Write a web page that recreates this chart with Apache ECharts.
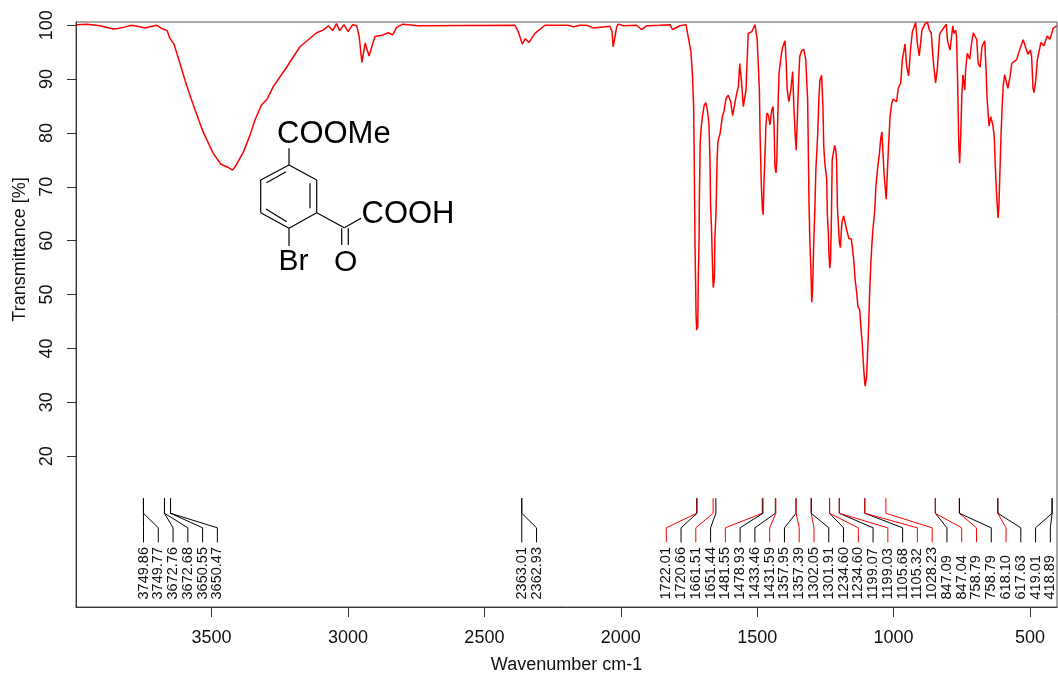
<!DOCTYPE html>
<html><head><meta charset="utf-8">
<style>html,body{margin:0;padding:0;background:#fff}#c{width:1058px;height:675px}</style>
<script src="https://cdn.jsdelivr.net/npm/echarts@6/dist/echarts.min.js"></script>
</head><body><div id="c"></div>
<script>
// [wavenumber cm-1, transmittance %]
const bandOH = [[3995,100.1],[3958,100.2],[3909,99.9],[3861,99.3],[3842,99.4],[3824,99.6],[3793,100],[3763,99.7],[3744,99.5],[3726,99.7],[3702,100],[3683,99.4],[3663,99],[3653,97.6],[3638,96.5],[3622,93.9],[3592,88.9],[3567,85.2],[3531,80.2],[3494,76.2],[3466,74.2],[3439,73.6],[3423,73.1],[3408,74.2],[3384,76.4],[3359,79.6],[3341,82.4],[3317,85.2],[3296,86.3],[3274,88.6],[3225,92.2],[3176,96],[3115,98.6],[3091,99.1],[3072,99.9],[3056,99],[3042,100.3],[3030,99],[3015,100.1],[2999,98.8],[2983,100.1],[2968,99.9],[2959,97.9],[2949,93.1],[2937,96.7],[2923,94.3],[2901,97.9],[2871,98.2],[2852,98.6],[2836,98.2],[2822,99.6],[2799,100.2],[2744,99.9]];
const bandMid = [[2388,100],[2376,98.8],[2361,96.5],[2350,97.5],[2336,96.8],[2315,98.5],[2278,100],[2193,100],[2172,99.7],[2150,100],[2125,100],[2101,99.5],[2040,99.8],[2032,98.8],[2028,96],[2023,96.1],[2015,99.7],[2009,100.2],[1991,99.9],[1942,100],[1924,99.2],[1905,99.9],[1856,100],[1820,100.1],[1810,99.2],[1783,99.9],[1761,100.1]];
const bandCarbonyl = [[1753,97.9],[1743,95.1],[1737,90.5],[1733,84.9],[1731,76.3],[1728,59.6],[1724,46.2],[1722,43.4],[1718,44],[1716,52.7],[1713,60.1],[1712,67.6],[1709,78.1],[1706,80.6],[1701,83],[1694,85.2],[1688,85.6],[1682,84],[1677,81.8],[1673,75],[1671,66.9],[1667,61.7],[1663,53.6],[1661,51.3],[1657,53],[1655,60.7],[1651,65.1],[1647,75],[1644,78.4],[1636,79.9],[1628,83],[1622,84],[1614,86.4],[1606,87],[1597,85.8],[1590,83.2],[1584,84.9],[1575,87.4],[1569,88.6],[1564,92.9],[1559,92.9],[1557,89.2],[1551,84.9],[1547,84.6],[1541,88],[1533,98.5],[1520,98.8],[1508,100.1]];
const bandAromatic = [[1500,97.3],[1492,88],[1489,78.7],[1485,70.6],[1481,66],[1478,64.8],[1475,71],[1470,78.1],[1468,81.5],[1464,83.7],[1459,83.3],[1453,81.5],[1447,84.2],[1442,84.9],[1438,81.2],[1435,73.8],[1431,72.6],[1428,75],[1424,84.3],[1420,91.1],[1414,93.6],[1408,95.7],[1398,97.1],[1394,93.6],[1390,88],[1384,85.8],[1380,86],[1376,88.3],[1370,91.4],[1366,85.5],[1361,79.9],[1357,76.8],[1353,82.4],[1348,89.8],[1344,94.2],[1337,95.3],[1329,95.5],[1322,93.6],[1315,86.1],[1310,66.9],[1307,60.1],[1303,54.6],[1300,48.6],[1297,50.8],[1293,58.9],[1288,66.9],[1285,73.1],[1278,79.9],[1274,86.1],[1270,89.8],[1264,90.7],[1259,84.9],[1256,77.5],[1252,74.4],[1245,71.3],[1243,65.1],[1239,61.4],[1237,57.7],[1234,54.9],[1231,56.4],[1228,63.8],[1225,75],[1219,76.8],[1216,77.7],[1212,76.8],[1209,75],[1206,66.3],[1203,63.5],[1199,59.8],[1195,58.7],[1192,61.4],[1189,63.5],[1183,64.6],[1178,64.6],[1172,62],[1164,60.4],[1155,60.3],[1150,58.3],[1145,55.8],[1142,53.3],[1135,50.2],[1131,47.9],[1124,47.1],[1121,44.7],[1115,41],[1110,36.6],[1106,33.8],[1104,33]];
const bandFingerprint = [[1099,34.7],[1095,39.7],[1091,44.7],[1088,50.2],[1084,55.2],[1080,58.9],[1076,62],[1069,65.7],[1065,70],[1058,73.7],[1052,76.2],[1047,79],[1043,80.2],[1039,80],[1035,72.6],[1030,69.4],[1027,67.7],[1023,72.5],[1018,78.1],[1013,83],[1007,85.5],[1001,86.3],[989,85.8],[983,88.3],[974,89.2],[968,93.6],[958,96.5],[952,92.3],[945,90.6],[937,96],[931,98.8],[919,100.5],[913,96.7],[906,94.3],[902,94.3],[896,99.1],[885,100.2],[876,100.6],[869,99.1],[862,98.6],[855,93.6],[846,89.3],[840,91.7],[831,98.4],[818,99.4],[807,100.2],[802,97],[793,95.4],[783,99.9],[779,98.5],[772,99.1],[769,97.6],[765,88.6],[761,78.1],[758,74.4],[754,79.3],[750,86.7],[746,90.8],[739,88],[736,91.7],[730,94.8],[726,94.9],[721,93.7],[714,96.7],[708,98.6],[702,98.8],[695,97.3],[690,92.9],[683,92.2],[676,96],[666,97.1],[661,91.7],[657,86.1],[650,81.3],[644,83],[640,83.3],[636,81.5],[631,79.3],[627,73.7],[622,68.2],[617,64.2],[614,66.3],[610,73.1],[606,79.9],[602,84.9],[598,88.9],[593,90.8],[588,90.6],[581,88.3],[573,90.5],[567,92.9],[549,93.6],[540,95.1],[525,97.3],[518,97.3],[508,94.6],[499,95.4],[494,94.2],[489,88.3],[485,87.5],[479,89.8],[473,93.6],[460,96.8],[449,96.2],[437,98],[427,97.4],[415,99.4],[402,99.9]];
const spectrum = [...bandOH, ...bandMid, ...bandCarbonyl, ...bandAromatic, ...bandFingerprint];

const xTicks = [3500,3000,2500,2000,1500,1000,500];
const yTicks = [20,30,40,50,60,70,80,90,100];

// peak tick labels, in the order they are printed
const peakLabels = ['3749.86','3749.77','3672.76','3672.68','3650.55','3650.47','2363.01','2362.93','1722.01','1720.66','1661.51','1651.44','1481.55','1478.93','1433.46','1431.59','1357.95','1357.39','1302.05','1301.91','1234.60','1234.60','1199.07','1199.03','1105.68','1105.32','1028.23','847.09','847.04','758.79','758.79','618.10','617.63','419.01','418.89'];
// r = red, k = black
const peakColors = 'kkkkkk' + 'kk' + 'rkrkrkkrkrrkkrkrkrrkrrkrkkk';
const groupSizes = [6,2,27];
const groupStarts = [3749.5,2363,1833.3];   // wavenumber under first label of each group
const groupStep = 54.15;                    // wavenumbers between neighbouring labels

// levels of the leader lines on the transmittance axis
const leaderTop = 12.2, leaderBendA = 9.4, leaderBendB = 6.7, leaderEnd = 4.0, labelStart = -6.6;

const slots = [];
groupSizes.forEach((n,g)=>{ for(let i=0;i<n;i++) slots.push(groupStarts[g]-i*groupStep); });
const peakData = peakLabels.map((l,i)=>[parseFloat(l),slots[i],i]);

const FONT = '"Liberation Sans", Arial, sans-serif';
const TEXT = '#111';
const chart = echarts.init(document.getElementById('c'),null,{renderer:'canvas'});

const bond = (x1,y1,x2,y2)=>({type:'line',shape:{x1,y1,x2,y2},style:{stroke:'#000',lineWidth:1.2},silent:true});
const atom = (text,x,y,size)=>({type:'text',x,y,style:{text,fontFamily:FONT,fontSize:size,fill:'#000',textVerticalAlign:'bottom'},silent:true});

chart.setOption({
  animation:false,
  backgroundColor:'#fff',
  textStyle:{fontFamily:FONT},
  grid:{left:76,right:1,top:22,bottom:68,outerBoundsMode:'none',show:true,borderColor:'#555',borderWidth:1,backgroundColor:'transparent'},
  xAxis:{type:'value',inverse:true,min:401,max:3997,
    name:'Wavenumber cm-1',nameLocation:'middle',nameGap:49,
    nameTextStyle:{fontSize:18,color:TEXT,fontFamily:FONT},
    splitLine:{show:false},
    axisLine:{show:true,onZero:false,lineStyle:{color:'#333',width:1}},
    axisTick:{show:true,length:10,customValues:xTicks,lineStyle:{color:'#333',width:1}},
    axisLabel:{fontSize:18,color:TEXT,fontFamily:FONT,margin:22,customValues:xTicks,formatter:v=>String(v)}
  },
  yAxis:{type:'value',min:-8,max:100.6,
    name:'Transmittance [%]',nameLocation:'middle',nameGap:47,
    nameTextStyle:{fontSize:18,color:TEXT,fontFamily:FONT,padding:[0,0,0,130]},
    splitLine:{show:false},
    axisLine:{show:true,onZero:false,lineStyle:{color:'#333',width:1}},
    axisTick:{show:true,length:9,customValues:yTicks,lineStyle:{color:'#333',width:1}},
    axisLabel:{fontSize:18,color:TEXT,fontFamily:FONT,rotate:90,margin:20,customValues:yTicks,formatter:v=>String(v)}
  },
  series:[
    {type:'line',data:spectrum,showSymbol:false,smooth:false,clip:true,
      lineStyle:{color:'#ff0000',width:1.5},itemStyle:{color:'#ff0000'},z:3},
    {type:'custom',data:peakData,encode:{x:[0,1]},clip:false,z:2,
      renderItem:(params,api)=>{
        const peak=api.value(0), slot=api.value(1), i=api.value(2);
        const col=peakColors[i]==='r'?'#ff0000':'#000000';
        const a=api.coord([peak,leaderTop]), b=api.coord([peak,leaderBendA]),
              c=api.coord([slot,leaderBendB]), d=api.coord([slot,leaderEnd]),
              t=api.coord([slot,labelStart]);
        return {type:'group',children:[
          {type:'polyline',shape:{points:[a,b,c,d]},style:{stroke:col,lineWidth:1,fill:null}},
          {type:'text',x:t[0],y:t[1],rotation:Math.PI/2,
            style:{text:peakLabels[i],fontFamily:FONT,fontSize:14.5,fill:TEXT,textAlign:'left',textVerticalAlign:'middle'}}
        ]};
      }}
  ],
  graphic:{elements:[
    bond(289,148.3,289,165),
    bond(289,165,316.7,180),bond(316.7,180,316.7,212.7),bond(316.7,212.7,289,228.3),
    bond(289,228.3,260.7,212.7),bond(260.7,212.7,260.7,180),bond(260.7,180,289,165),
    bond(266.5,182.7,286,171.7),bond(310,183.3,310,208.3),bond(266,209,286.7,221.7),
    bond(289,228.3,289,246),
    bond(316.7,212.7,344.3,227.7),bond(344.3,227.7,361,218.3),
    bond(341.7,228.3,341.7,245),bond(348.3,228.3,348.3,245),
    atom('COOMe',277,150,31),
    atom('COOH',361.5,230,31),
    atom('Br',278.5,277,30),
    atom('O',334,278,30)
  ]}
});
</script></body></html>
